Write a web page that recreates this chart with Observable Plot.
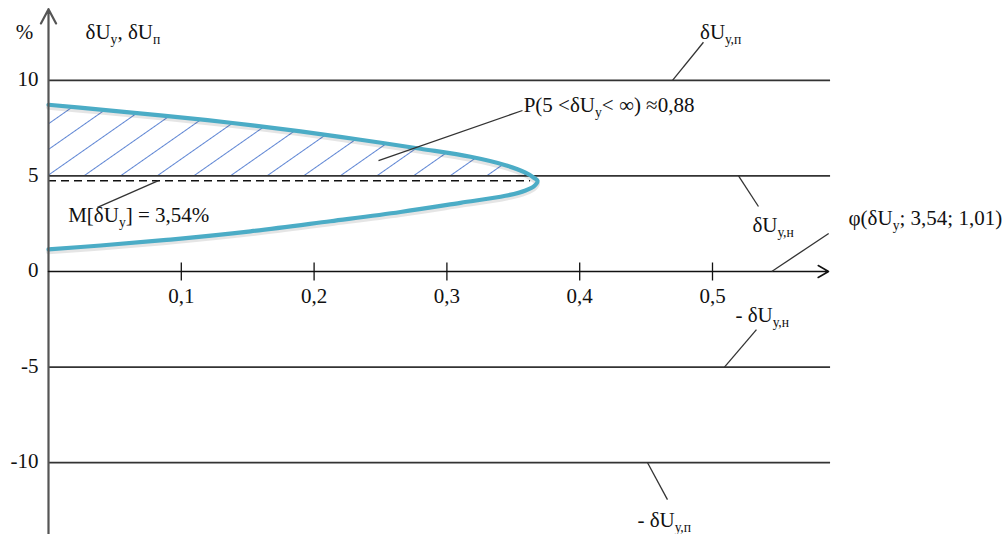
<!DOCTYPE html>
<html><head><meta charset="utf-8">
<script src="https://cdn.jsdelivr.net/npm/d3@7"></script>
<script src="https://cdn.jsdelivr.net/npm/@observablehq/plot@0.6"></script>
<style>body{margin:0;background:#fff} #chart svg{display:block}</style>
</head><body><div id="chart"></div>
<script>
// ---- data (schematic drawing, values in axis units) ----
// density curve φ(δUу; 3,54; 1,01) drawn sideways: x = density, y = δUу (%)
const curveX = [0, 0.0392, 0.0843, 0.137, 0.1898, 0.2349, 0.2801, 0.3178, 0.3441, 0.3592, 0.3652, 0.3682,
                0.366, 0.3592, 0.3441, 0.3102, 0.2651, 0.2123, 0.1521, 0.0919, 0.0392, 0];
const curveY = [8.72, 8.47, 8.17, 7.78, 7.33, 6.89, 6.42, 6.0, 5.56, 5.17, 4.92, 4.75,
                4.49, 4.24, 3.96, 3.59, 3.11, 2.63, 2.10, 1.67, 1.36, 1.16];
const hatchTopCount = 10;             // points of the upper branch above the 5 % line
const hatchEdge = {x: 0.3632, y: 5};  // where the upper branch meets the 5 % line
const levelValues = [10, 5, -5, -10];
const meanLine = {y: 4.75, xEnd: 0.363};
const xTickValues = [0.1, 0.2, 0.3, 0.4, 0.5];
const xTickLabels = ["0,1", "0,2", "0,3", "0,4", "0,5"];
const yTickValues = [10, 5, 0, -5, -10];
const yTickLabels = ["10", "5", "0", "-5", "-10"];
const xAxisEnd = 0.5889;
const yAxisExtent = [-14, 13.72];
// annotations
const noteText = ["δU{у,п}", "δU{у,н}", "φ(δU{у}; 3,54; 1,01)", "- δU{у,н}", "- δU{у,п}", "P(5 <δU{у}< ∞) ≈0,88", "M[δU{у}] = 3,54%"];
const noteX = [0.4906, 0.5301, 0.6024, 0.5173, 0.4435, 0.3578, 0.0148];
const noteY = [12.50, 2.41, 2.77, -2.30, -13.03, 8.68, 2.93];
const leaderX1 = [0.4699, 0.5196, 0.5446, 0.5090, 0.4511, 0.2485, 0.0828];
const leaderY1 = [10, 5, 0, -5, -10, 5.80, 4.75];
const leaderX2 = [0.4932, 0.5346, 0.5875, 0.5331, 0.4661, 0.3569, 0.0369];
const leaderY2 = [11.99, 3.40, 1.99, -3.04, -11.93, 8.42, 3.35];
const axisLabelText = ["%", "δU{у}, δU{п}"];
const axisLabelX = [-0.018, 0.0279];
const axisLabelY = [12.50, 12.50];

// ---- build tables ----
const curve = curveX.map((x, i) => ({x, y: curveY[i]}));
const hatch = curve.slice(0, hatchTopCount).concat([hatchEdge]);
const notes = noteText.map((t, i) => ({t, x: noteX[i], y: noteY[i]}));
const leaders = leaderX1.map((x1, i) => ({x1, y1: leaderY1[i], x2: leaderX2[i], y2: leaderY2[i]}));
const axisLabels = axisLabelText.map((t, i) => ({t, x: axisLabelX[i], y: axisLabelY[i]}));
const xTicks = xTickValues.map((v, i) => ({v, label: xTickLabels[i]}));
const yTicks = yTickValues.map((v, i) => ({v, label: yTickLabels[i]}));

const FS = 21;
const tickSymbol = {draw(ctx) { ctx.moveTo(0, -9); ctx.lineTo(0, 9); }};

const svg = Plot.plot({
  width: 1007,
  height: 534,
  marginLeft: 48, marginRight: 162.2,
  marginTop: 79.8, marginBottom: 71.8,
  x: {domain: [0, 0.6], axis: null},
  y: {domain: [-10, 10], axis: null},
  style: {fontFamily: "'Liberation Serif', 'Times New Roman', serif", fontSize: FS + "px", color: "#111", background: "#fff"},
  marks: [
    Plot.areaX(hatch, {x1: 0, x2: "x", y: "y", fill: "url(#hatch)", curve: "catmull-rom"}),
    Plot.ruleY(levelValues, {y: d => d, x1: 0, x2: xAxisEnd, stroke: "#333", strokeWidth: 1.8}),
    Plot.ruleY([meanLine], {y: "y", x1: 0, x2: "xEnd", stroke: "#111", strokeWidth: 1.4, strokeDasharray: "8,5"}),
    Plot.line(curve, {x: "x", y: "y", curve: "catmull-rom", stroke: "#000", strokeOpacity: 0.1, strokeWidth: 5, dy: 2.5}),
    Plot.line(curve, {x: "x", y: "y", curve: "catmull-rom", stroke: "#4BACC6", strokeWidth: 4.2}),
    Plot.arrow([0], {x1: 0, y1: yAxisExtent[0], x2: 0, y2: yAxisExtent[1], stroke: "#555", strokeWidth: 2.2, headLength: 11, headAngle: 56}),
    Plot.arrow([0], {x1: 0, y1: 0, x2: xAxisEnd - 0.0015, y2: 0, stroke: "#111", strokeWidth: 1.5, headLength: 12, headAngle: 60}),
    Plot.dot(xTicks, {x: "v", y: 0, symbol: tickSymbol, fill: "none", stroke: "#111", strokeWidth: 1.3}),
    Plot.text(xTicks, {x: "v", y: 0, text: "label", dy: 25, fontSize: FS, fill: "#111"}),
    Plot.text(yTicks, {x: 0, y: "v", text: "label", dx: -10, dy: -1, textAnchor: "end", fontSize: FS, fill: "#111"}),
    Plot.link(leaders, {x1: "x1", y1: "y1", x2: "x2", y2: "y2", stroke: "#333", strokeWidth: 1.3}),
    Plot.text(notes, {x: "x", y: "y", text: "t", textAnchor: "start", fontSize: FS, fill: "#111"}),
    Plot.text(axisLabels.slice(0, 1), {x: "x", y: "y", text: "t", textAnchor: "middle", fontSize: FS, fill: "#111"}),
    Plot.text(axisLabels.slice(1), {x: "x", y: "y", text: "t", textAnchor: "start", fontSize: FS, fill: "#111"})
  ]
});

// hatch pattern (one hatch line passes through the corner of the y axis and the 5 % line)
const defs = d3.select(svg).insert("defs", ":first-child");
const pat = defs.append("pattern").attr("id", "hatch").attr("patternUnits", "userSpaceOnUse")
  .attr("width", 40).attr("height", 21)
  .attr("patternTransform", "translate(48,175.4) rotate(-35) translate(0,-10.5)");
pat.append("line").attr("x1", 0).attr("y1", 10.5).attr("x2", 40).attr("y2", 10.5)
  .attr("stroke", "#5f86d4").attr("stroke-width", 1);

// subscripts: {…} → smaller, lowered tspan
svg.querySelectorAll("text").forEach(t => {
  const s = t.textContent;
  if (!s.includes("{")) return;
  while (t.firstChild) t.removeChild(t.firstChild);
  let shifted = false;
  s.split(/(\{[^}]*\})/).forEach(p => {
    if (!p) return;
    const ts = document.createElementNS("http://www.w3.org/2000/svg", "tspan");
    if (p.startsWith("{")) {
      ts.textContent = p.slice(1, -1);
      ts.setAttribute("font-size", "0.65em");
      ts.setAttribute("dy", "5");
      shifted = true;
    } else {
      ts.textContent = p;
      if (shifted) { ts.setAttribute("dy", "-5"); shifted = false; }
    }
    t.appendChild(ts);
  });
});

document.getElementById("chart").appendChild(svg);
</script>
</body></html>
